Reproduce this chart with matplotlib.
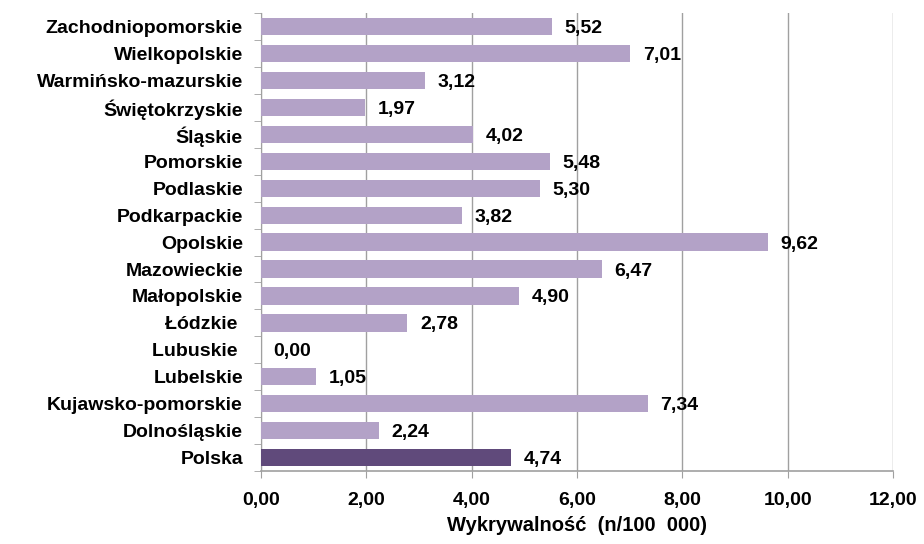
import matplotlib.pyplot as plt
import numpy as np

plt.rcParams['font.family'] = ['Liberation Sans', 'DejaVu Sans']
plt.rcParams['font.weight'] = 'bold'

# Województwa od góry do dołu
wojewodztwa = ['Zachodniopomorskie', 'Wielkopolskie', 'Warmińsko-mazurskie',
               'Świętokrzyskie', 'Śląskie', 'Pomorskie', 'Podlaskie',
               'Podkarpackie', 'Opolskie', 'Mazowieckie', 'Małopolskie',
               'Łódzkie ', 'Lubuskie ', 'Lubelskie', 'Kujawsko-pomorskie',
               'Dolnośląskie', 'Polska']
wykrywalnosc = [5.52, 7.01, 3.12, 1.97, 4.02, 5.48, 5.30, 3.82, 9.62, 6.47,
                4.90, 2.78, 0.00, 1.05, 7.34, 2.24, 4.74]
x_ticks = [0, 2, 4, 6, 8, 10, 12]

kolory = ['#B3A2C7'] * (len(wojewodztwa) - 1) + ['#604A7B']
y = np.arange(len(wojewodztwa))[::-1]

fig = plt.figure(figsize=(9.24, 5.44), dpi=100)
ax = fig.add_axes([0.2825, 0.134, 0.684, 0.842])

ax.barh(y, wykrywalnosc, height=0.64, color=kolory, zorder=3)
for yi, v in zip(y, wykrywalnosc):
    ax.text(v + 0.24, yi, f'{v:.2f}'.replace('.', ','), va='center_baseline', ha='left',
            fontsize=14, fontweight='bold', zorder=4)

ax.set_xlim(0, 12)
ax.set_ylim(-0.5, len(wojewodztwa) - 0.5)
ax.set_xticks(x_ticks)
ax.set_xticklabels([f'{t:.2f}'.replace('.', ',') for t in x_ticks], fontsize=14, fontweight='bold')
ax.set_yticks(y)
ax.set_yticklabels(wojewodztwa, fontsize=14, fontweight='bold')
ax.set_yticks(np.arange(len(wojewodztwa) + 1) - 0.5, minor=True)
ax.tick_params(axis='y', which='major', length=0, pad=13)
ax.tick_params(axis='y', which='minor', length=5, color='#A0A0A0')
ax.tick_params(axis='x', length=5, color='#A0A0A0', pad=10)

ax.grid(axis='x', color='#A0A0A0', linewidth=1, zorder=0)
for s in ['top', 'right']:
    ax.spines[s].set_visible(False)
ax.spines['left'].set_color('#A0A0A0')
ax.spines['bottom'].set_color('#A0A0A0')
ax.spines['bottom'].set_linewidth(1.2)

ax.set_xlabel('Wykrywalność  (n/100  000)', fontsize=14.5, fontweight='bold', labelpad=5)

plt.savefig('out.png', dpi=100)
